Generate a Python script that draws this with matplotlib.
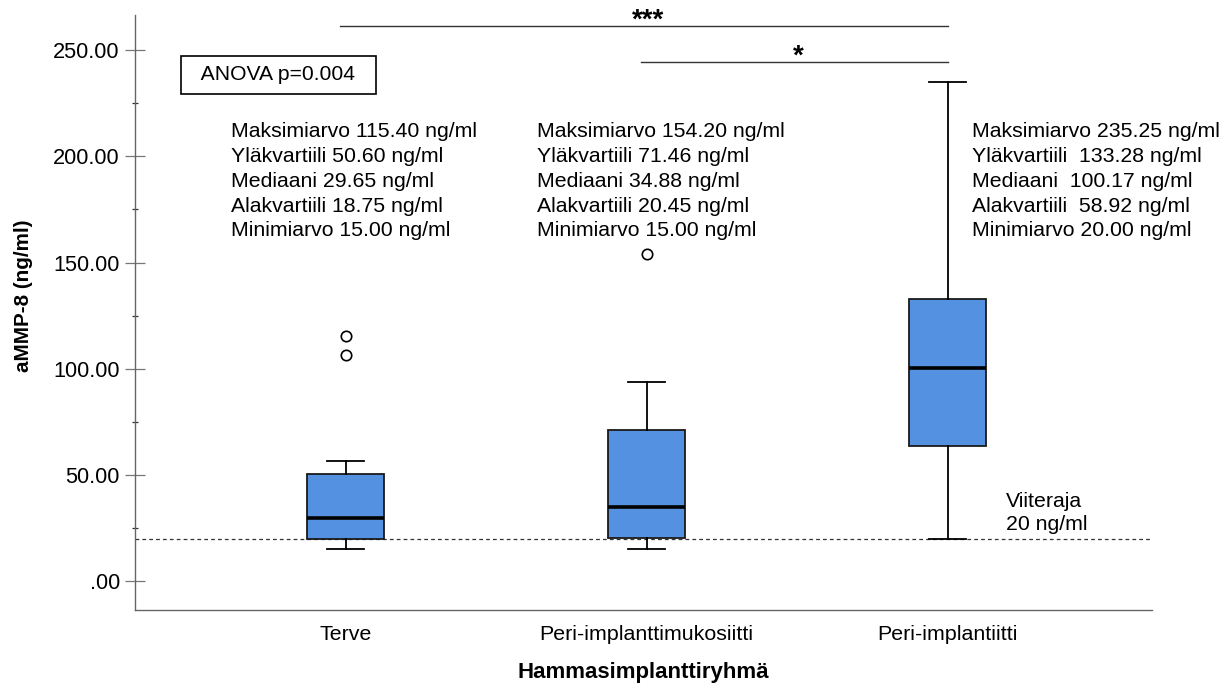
import matplotlib
matplotlib.use("Agg")
import matplotlib.pyplot as plt
from matplotlib.ticker import MultipleLocator, FuncFormatter

plt.rcParams['font.family'] = ['Liberation Sans', 'DejaVu Sans']

# ---- data ----
categories = ["Terve", "Peri-implanttimukosiitti", "Peri-implantiitti"]
whislo = [15.0, 15.0, 20.0]
q1 = [20.0, 20.45, 63.6]
med = [29.65, 34.88, 100.17]
q3 = [50.6, 71.0, 132.6]
whishi = [56.5, 93.7, 235.25]
fliers = [[115.4, 106.5], [154.2], []]

stat_texts = [
    ["Maksimiarvo 115.40 ng/ml", "Yläkvartiili 50.60 ng/ml", "Mediaani 29.65 ng/ml",
     "Alakvartiili 18.75 ng/ml", "Minimiarvo 15.00 ng/ml"],
    ["Maksimiarvo 154.20 ng/ml", "Yläkvartiili 71.46 ng/ml", "Mediaani 34.88 ng/ml",
     "Alakvartiili 20.45 ng/ml", "Minimiarvo 15.00 ng/ml"],
    ["Maksimiarvo 235.25 ng/ml", "Yläkvartiili  133.28 ng/ml", "Mediaani  100.17 ng/ml",
     "Alakvartiili  58.92 ng/ml", "Minimiarvo 20.00 ng/ml"],
]
reference_value = 20
anova_text = "ANOVA p=0.004"
sig_pairs = [(0, 2, "***", 261.5), (1, 2, "*", 244.5)]

fig = plt.figure(figsize=(12.3, 6.9), dpi=100)
ax = fig.add_axes([0.1098, 0.116, 0.827, 0.862])

stats = []
for i in range(3):
    stats.append(dict(whislo=whislo[i], q1=q1[i], med=med[i], q3=q3[i],
                      whishi=whishi[i], fliers=fliers[i], label=categories[i]))

ax.bxp(stats, positions=[0, 1, 2], widths=0.255, capwidths=0.123,
       patch_artist=True, showfliers=True,
       boxprops=dict(facecolor='#5591e1', edgecolor='#1a1a1a', linewidth=1.3),
       medianprops=dict(color='black', linewidth=2.6),
       whiskerprops=dict(color='black', linewidth=1.3),
       capprops=dict(color='black', linewidth=1.3),
       flierprops=dict(marker='o', markerfacecolor='white', markeredgecolor='black',
                       markersize=7.5, markeredgewidth=1.2))

ax.axhline(reference_value, color='#333333', linestyle=(0, (3, 2.5)), linewidth=0.9, zorder=0.5)

ax.set_xlim(-0.70, 2.68)
ax.set_ylim(-13.65, 266.5)

ax.yaxis.set_major_locator(MultipleLocator(50))
ax.yaxis.set_minor_locator(MultipleLocator(25))
ax.yaxis.set_major_formatter(FuncFormatter(lambda v, p: ".00" if v == 0 else f"{v:.2f}"))
ax.tick_params(axis='y', which='major', direction='inout', length=14, width=0.9,
               color='#777777', labelsize=15.7, pad=4)
ax.tick_params(axis='y', which='minor', direction='inout', length=5, width=0.9, color='#333333')
ax.tick_params(axis='x', which='both', length=0, labelsize=15.4, pad=11)
ax.set_xticks([0, 1, 2])
ax.set_xticklabels(categories)

for s in ['top', 'right']:
    ax.spines[s].set_visible(False)
for s in ['left', 'bottom']:
    ax.spines[s].set_color('#666666')
    ax.spines[s].set_linewidth(1.0)

ax.set_ylabel("aMMP-8 (ng/ml)", fontsize=14.9, fontweight='bold')
ax.yaxis.set_label_coords(-0.1003, 0.529)
ax.set_xlabel("Hammasimplanttiryhmä", fontsize=16, fontweight='bold', labelpad=13)

# stats text
text_x = [-0.382, 0.637, 2.08]
line_y = [211.5, 199.8, 188.0, 176.5, 165.0]
for i in range(3):
    for j, t in enumerate(stat_texts[i]):
        ax.text(text_x[i], line_y[j], t, fontsize=15.3, va='center', ha='left', clip_on=False)

# ANOVA box
ax.text(-0.223, 238.5, "  " + anova_text + "  ", fontsize=15.2, ha='center', va='center',
        bbox=dict(boxstyle='square,pad=0.45', facecolor='white', edgecolor='black', linewidth=1.2))

# reference label
ax.text(2.195, 37.5, "Viiteraja", fontsize=15.3, ha='left', va='center')
ax.text(2.195, 26.5, "20 ng/ml", fontsize=15.3, ha='left', va='center')

# significance lines
for a, b, lab, yv in sig_pairs:
    ax.plot([a - 0.02, b], [yv, yv], color='#333333', linewidth=1.0, clip_on=False)
    ax.text((a + b) / 2 + 0.005, yv - 3.8, lab, fontsize=20,
            ha='center', va='bottom', fontweight='bold', clip_on=False)

fig.savefig("out.png", dpi=100)
